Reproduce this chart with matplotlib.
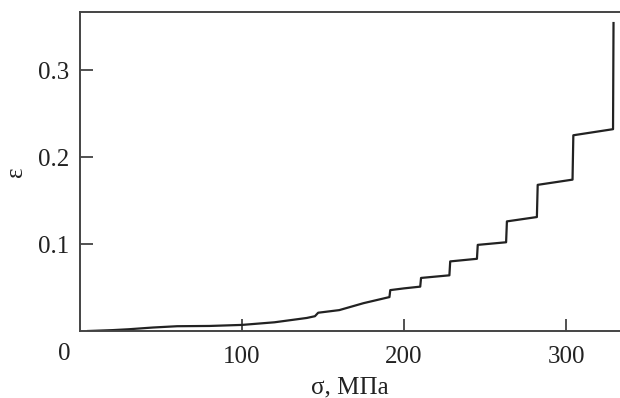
import numpy as np
import matplotlib
matplotlib.use('Agg')
import matplotlib.pyplot as plt

# stress, MPa and strain
sigma = [5, 20, 30, 45, 60, 80, 100, 120, 140, 145, 147, 160, 175,
         191, 191.5, 200, 210, 210.5, 228, 228.5, 245, 245.5,
         263, 263.5, 282, 282.5, 304, 304.5, 329, 329.3]
eps = [0.0, 0.001, 0.002, 0.004, 0.0055, 0.0058, 0.007, 0.010, 0.015, 0.017, 0.021, 0.024, 0.032,
       0.039, 0.047, 0.049, 0.051, 0.061, 0.064, 0.080, 0.083, 0.099,
       0.102, 0.126, 0.131, 0.168, 0.174, 0.225, 0.232, 0.354]

xticks = [100, 200, 300]
yticks = [0.1, 0.2, 0.3]

plt.rcParams['font.family'] = ['Liberation Serif', 'DejaVu Serif']

fig = plt.figure(figsize=(6.2, 3.98), dpi=100)
ax = fig.add_axes([80 / 620, 67 / 398, 540 / 620, 319 / 398])

ax.plot(sigma, eps, color='#222222', lw=1.6)

ax.set_xlim(0, 333.3)
ax.set_ylim(0, 0.3667)
ax.set_xticks(xticks)
ax.set_xticklabels([str(t) for t in xticks])
ax.set_yticks(yticks)
ax.set_yticklabels(['0.1', '0.2', '0.3'])

ax.tick_params(direction='in', length=9, width=1.2, color='#333333',
               labelsize=18, labelcolor='#222222')
ax.tick_params(axis='x', pad=11)
ax.tick_params(axis='y', pad=8)

for s in ['left', 'bottom', 'top']:
    ax.spines[s].set_color('#444444')
    ax.spines[s].set_linewidth(1.4)
ax.spines['right'].set_visible(False)

# shared origin label at the lower-left corner
ax.text(-16 / 540 * 333.3, -0.0265, '0', fontsize=18, color='#222222',
        ha='center', va='center', clip_on=False)

ax.set_xlabel('σ, МПа', fontsize=18, color='#222222', labelpad=6)
ax.set_ylabel('ε', fontsize=18, color='#222222')
ax.yaxis.set_label_coords(-0.098, 0.5)

fig.savefig('out.png', dpi=100)
